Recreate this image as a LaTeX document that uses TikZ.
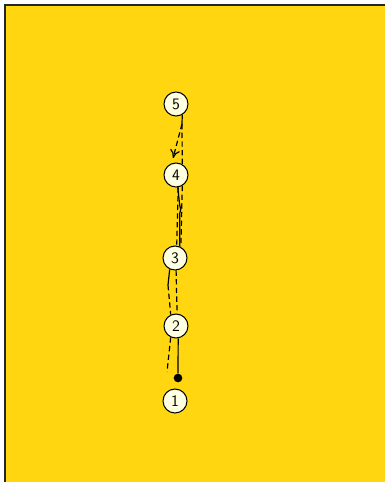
\documentclass[tikz,border=0pt]{standalone}
\usepackage{tikz}
\usetikzlibrary{arrows.meta}
\definecolor{court}{RGB}{255,214,15}
\definecolor{chalk}{RGB}{255,255,226}

\begin{document}
\begin{tikzpicture}[x=0.75pt, y=-0.75pt, every node/.style={font=\sffamily\large}, >={To[length=2.2mm, width=2.6mm]},
	player/.style={circle, draw, line width=0.8pt, fill=chalk, minimum size=18pt, inner sep=0pt},
	ballmark/.style={circle, fill=black, minimum size=6.5pt, inner sep=0pt},
	pass/.style={dash pattern=on 4pt off 2.5pt}]
	\useasboundingbox (0,0) rectangle (385,482);
	\fill[white] (0,0) rectangle (385,482);
	\fill[court] (5,5) rectangle (390,490);
	\draw[black!85, line width=1.2pt] (5,490) -- (5,5) -- (390,5);
	% players
	\node[player] (p5) at (176,104) {5};
	\node[player] (p4) at (176,175) {4};
	\node[player] (p3) at (175,258) {3};
	\node[player] (p2) at (176,326) {2};
	\node[player] (p1) at (175,401) {1};
	\node[ballmark] (ball) at (178,378) {};
	\begin{scope}[line width=0.9pt]
	% 5 to 4
	\coordinate (turn5) at (182,124);
	\draw (p5.-60) -- (turn5);
	\draw[pass] (turn5) -- (p4.60);
	\draw[pass, ->, shorten >=4pt] (turn5) -- (p4.110);
	% 4 to 3
	\draw[pass] (p4.-60) -- (p3.62);
	\draw[pass] (p4.-80) -- (p3.82);
	\draw (p4.-82) -- ++(2,18) -- ++(1,4) -- ++(-1,4) -- (p3.68);
	% 3 to 2
	\coordinate (turn3) at (168,285);
	\draw (p3.-115) -- (turn3);
	\draw[pass] (turn3) -- (p2.115);
	\draw[pass] (p3.-85) -- (p2.85);
	% 2 to ball
	\coordinate (end2) at (167,372);
	\draw (p2.-80) -- (ball);
	\draw[pass] (p2.-115) -- (end2);
	\end{scope}
\end{tikzpicture}
\end{document}
